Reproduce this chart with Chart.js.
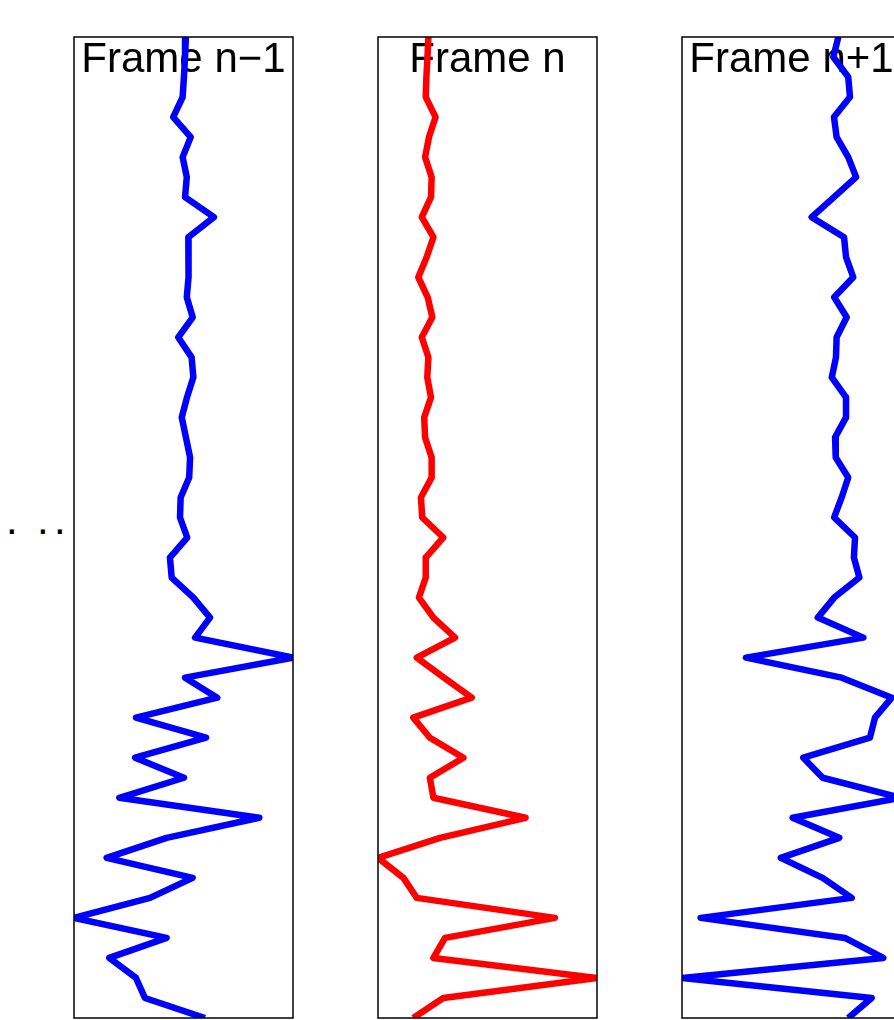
<!DOCTYPE html>
<html>
<head>
<meta charset="utf-8">
<script src="https://cdn.jsdelivr.net/npm/chart.js@4"></script>
<style>
html, body { margin: 0; padding: 0; background: #fff; overflow: hidden; width: 894px; height: 1020px; }
canvas { position: absolute; }
.dot { position: absolute; font: 42px "Liberation Sans", Arial, sans-serif; line-height: 42px; color: #000; }
</style>
</head>
<body>
<canvas id="c0"></canvas>
<canvas id="c1"></canvas>
<canvas id="c2"></canvas>
<span class="dot" style="left:6px;top:499px">.</span>
<span class="dot" style="left:37px;top:499px">.</span>
<span class="dot" style="left:54px;top:499px">.</span>
<script>
// sample rows, top to bottom
const rows = [];
for (let i = 1; i <= 50; i++) rows.push(i);

const titles = ["Frame n\u22121", "Frame n", "Frame n+1"];

// horizontal position of the trace in each row (0 = left edge of box, 100 = right edge)
const framePrev = [
    51.1, 50.7, 50.2, 49.6, 45.3, 53.3, 49.6, 51.5, 50.7, 63.9,
    52.2, 52.4, 52.2, 51.5, 54.2, 47.6, 53.7, 54.5, 51.6, 49.2,
    51.1, 53.0, 52.6, 48.7, 48.4, 51.7, 43.8, 44.6, 54.5, 62.1,
    55.3, 100, 50.7, 65.4, 28.3, 60.3, 27.9, 50.2, 20.7, 84.6,
    42.3, 14.9, 54.2, 34.7, 0, 42.3, 16.1, 28.3, 32.4, 59.8
];
const frameCur = [
    23.0, 22.6, 22.1, 21.8, 26.3, 23.3, 21.5, 24.5, 24.2, 20.0,
    25.3, 22.2, 18.4, 22.7, 24.8, 20.0, 23.0, 22.5, 24.2, 21.1,
    21.5, 24.5, 24.5, 19.6, 20.2, 29.8, 21.8, 21.8, 18.7, 25.3,
    35.2, 17.7, 30.1, 42.8, 16.1, 23.7, 39.0, 23.7, 25.3, 67.4,
    28.3, 0, 11.6, 17.7, 80.8, 30.6, 25.3, 100, 29.8, 16.1
];
const frameNext = [
    71.4, 69.1, 75.9, 76.7, 69.4, 70.6, 75.9, 79.5, 69.4, 59.2,
    74.0, 74.9, 78.2, 69.5, 75.2, 70.6, 70.3, 68.4, 74.9, 74.9,
    69.9, 70.2, 75.9, 72.9, 69.5, 79.0, 78.5, 81.0, 69.5, 62.0,
    82.8, 29.2, 72.9, 95.8, 88.1, 85.8, 55.4, 64.2, 100, 50.5,
    71.8, 45.1, 64.2, 77.5, 8.5, 74.4, 91.9, 0, 86.6, 75.9
];

// title text and box outline
const framePlugin = {
    id: "frameBox",
    beforeDatasetsDraw(chart, args, opts) {
        const area = chart.chartArea;
        const ctx = chart.ctx;
        ctx.save();
        ctx.fillStyle = "#000";
        ctx.font = '42px "Liberation Sans", Arial, sans-serif';
        ctx.textAlign = "center";
        ctx.textBaseline = "alphabetic";
        ctx.fillText(opts.text, (area.left + area.right) / 2, area.top + 35);
        ctx.restore();
    },
    afterDatasetsDraw(chart) {
        const area = chart.chartArea;
        const ctx = chart.ctx;
        ctx.save();
        ctx.strokeStyle = "#000";
        ctx.lineWidth = 1.5;
        ctx.strokeRect(area.left, area.top, area.right - area.left, area.bottom - area.top);
        ctx.restore();
    }
};

const panels = [
    {id: "c0", title: titles[0], values: framePrev, color: "#0000ff", left: 74},
    {id: "c1", title: titles[1], values: frameCur, color: "#ff0000", left: 378},
    {id: "c2", title: titles[2], values: frameNext, color: "#0000ff", left: 682}
];

function makeChart(p) {
    const cv = document.getElementById(p.id);
    cv.width = 227;
    cv.height = 989;
    cv.style.width = "227px";
    cv.style.height = "989px";
    cv.style.left = (p.left - 4) + "px";
    cv.style.top = "33px";

    return new Chart(cv, {
        type: "line",
        data: {
            labels: rows,
            datasets: [{
                data: p.values,
                borderColor: p.color,
                backgroundColor: p.color,
                borderWidth: 6.5,
                borderJoinStyle: "round",
                pointRadius: 0,
                tension: 0,
                clip: 0
            }]
        },
        options: {
            indexAxis: "y",
            responsive: false,
            animation: false,
            layout: {padding: 4},
            scales: {
                x: {type: "linear", min: 0, max: 100, display: false},
                y: {type: "category", offset: false, display: false}
            },
            plugins: {
                legend: {display: false},
                tooltip: {enabled: false},
                frameBox: {text: p.title}
            }
        },
        plugins: [framePlugin]
    });
}

panels.forEach(makeChart);
</script>
</body>
</html>
